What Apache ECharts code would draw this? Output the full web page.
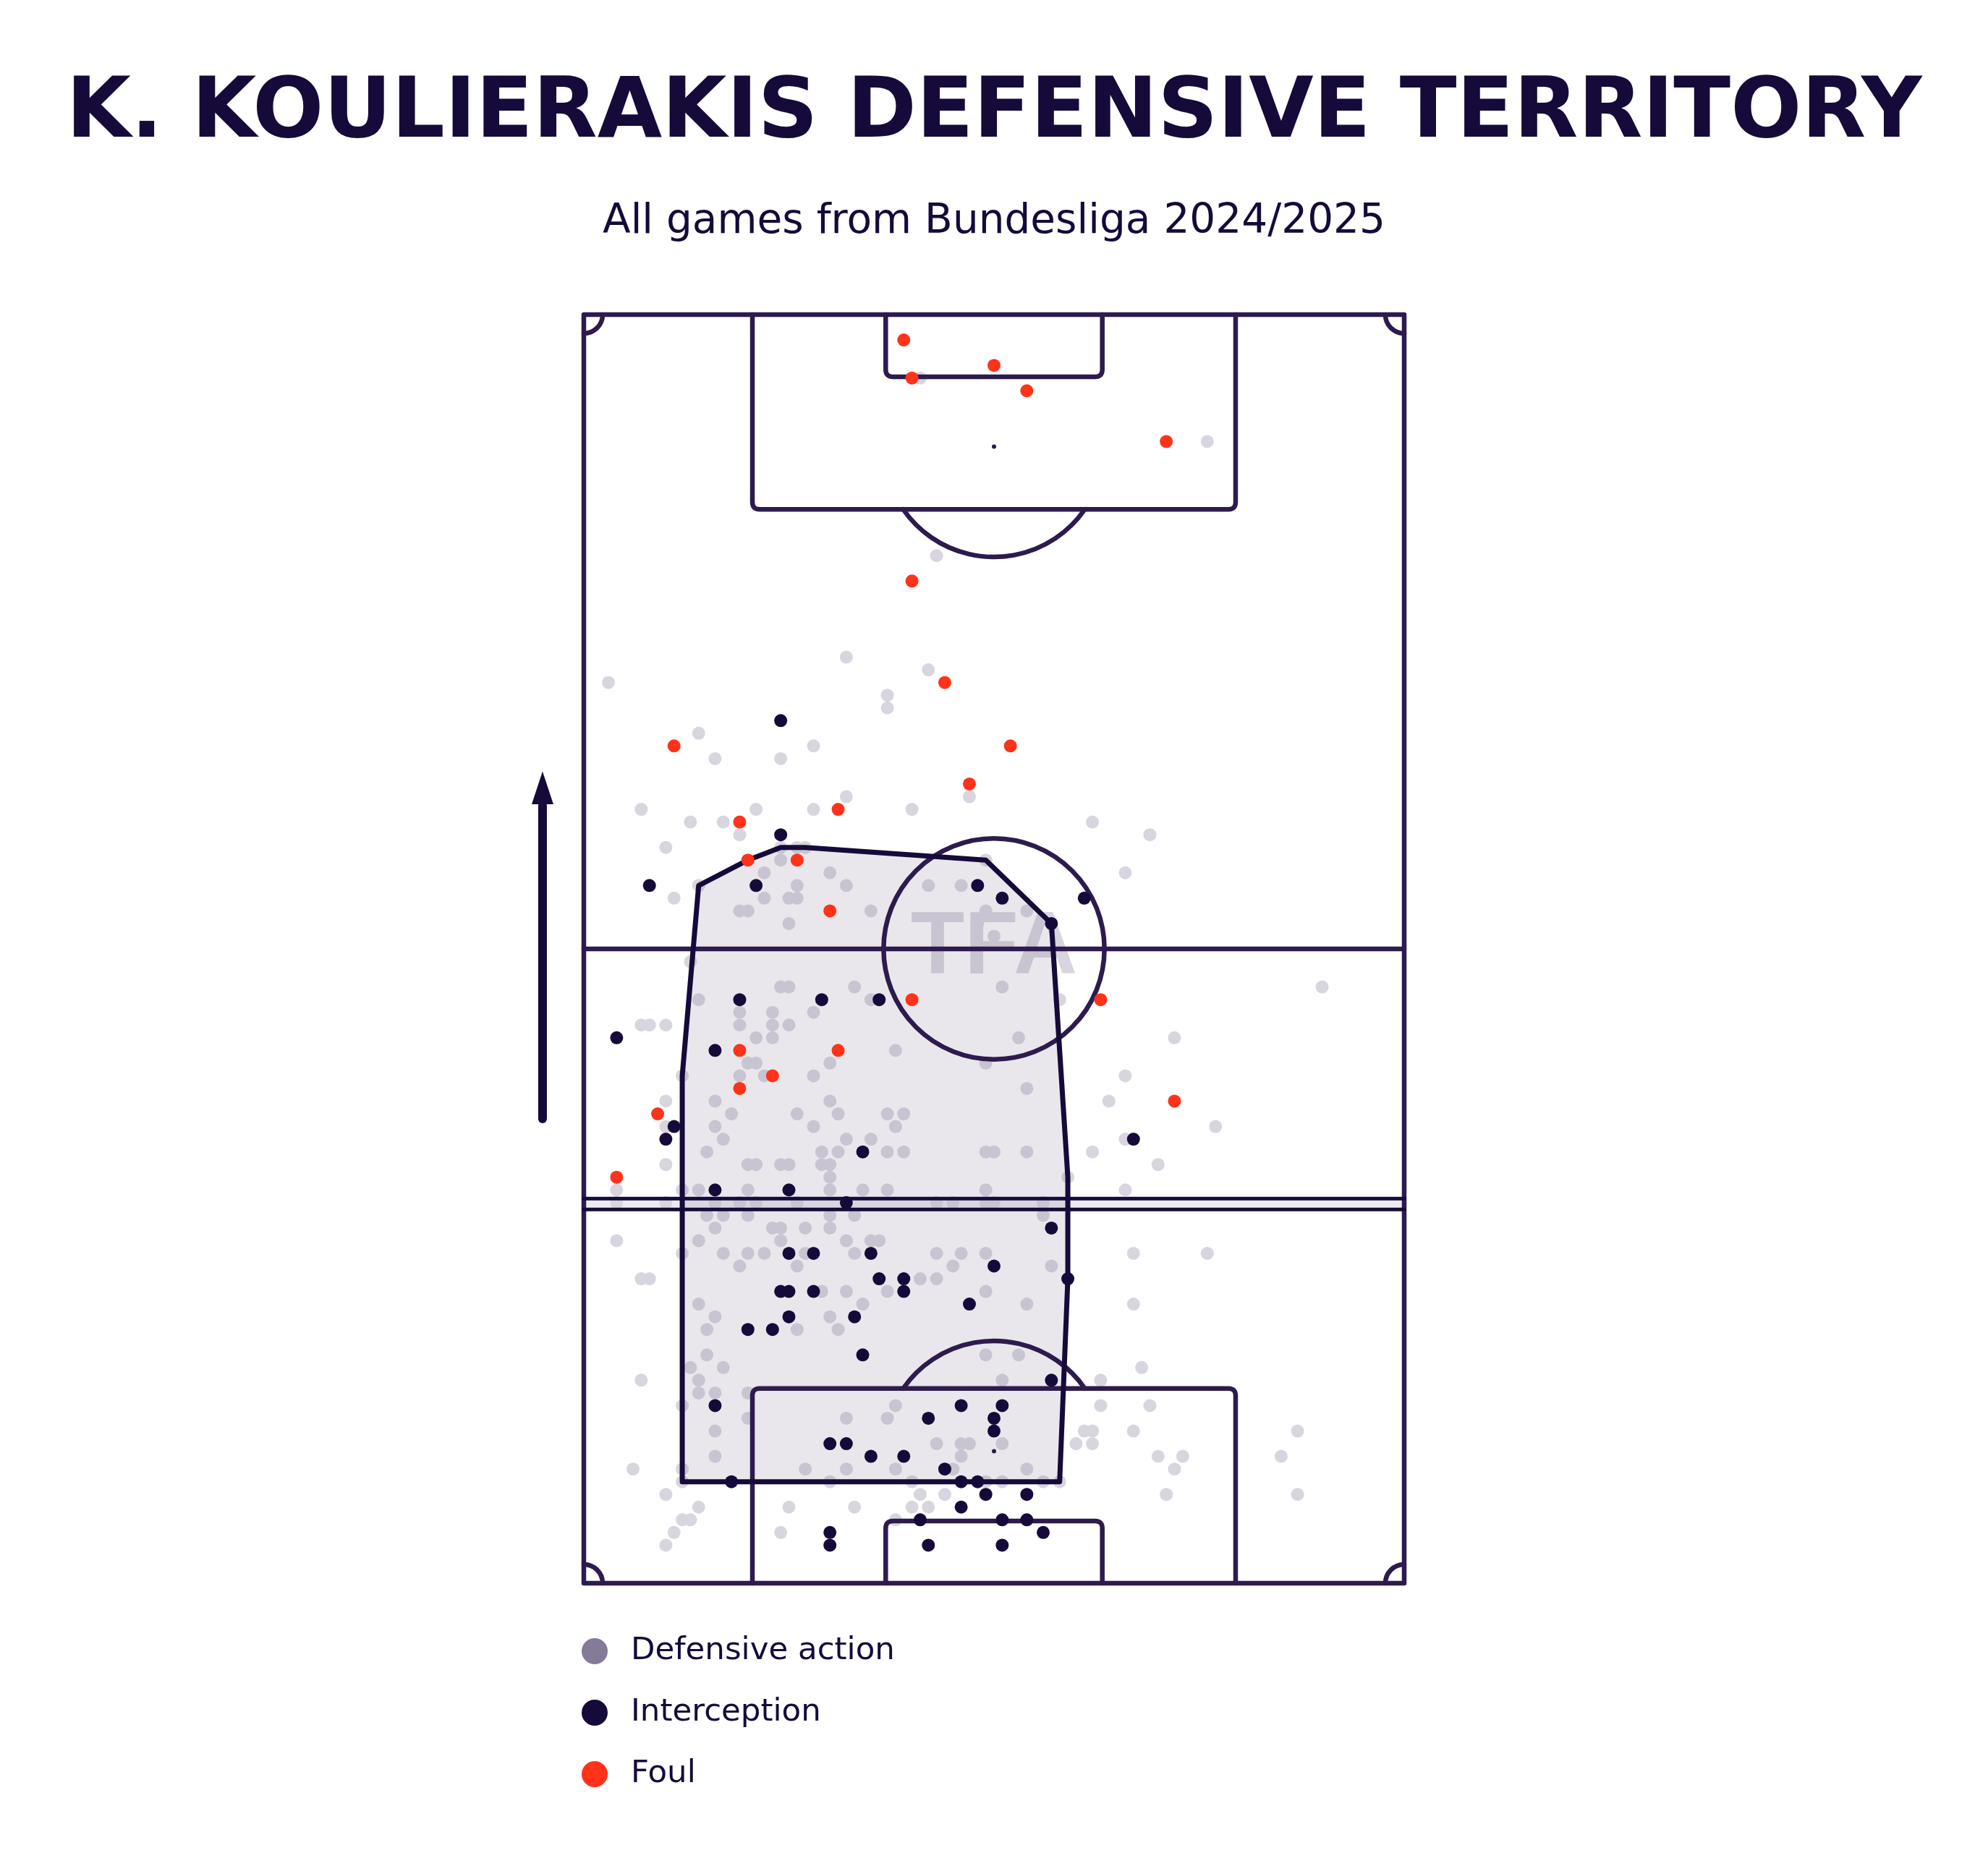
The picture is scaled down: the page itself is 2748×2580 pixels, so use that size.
<!DOCTYPE html>
<html>
<head>
<meta charset="utf-8">
<title>K. Koulierakis defensive territory</title>
<script src="https://cdn.jsdelivr.net/npm/echarts@6.0.0/dist/echarts.min.js"></script>
<style>
  html, body { margin: 0; padding: 0; background: #ffffff; }
  #territory { width: 2748px; height: 2580px; }
</style>
</head>
<body>
<div id="territory"></div>
<script>
// positions are opta units: x across the pitch (0 left, 100 right), y along it (0 own goal, 100 opp goal)
var defensiveActions = [
  [41,95],[76,90],[43,81],[32,73],[42,72],[3,71],[37,70],[37,69],
  [14,67],[28,66],[16,65],[24,65],[47,62],[32,62],[7,61],[21,61],[28,61],[40,61],[62,60],[13,60],[17,60],
  [19,59],[69,59],[10,58],[24,58],[26,58],[27,58],[24,57],[49,57],[22,56],[30,56],[66,56],
  [14,55],[26,55],[32,55],[42,55],[46,55],[11,54],[22,54],[25,54],[26,54],[19,53],[20,53],[35,53],[49,53],[54,53],
  [48,52],[25,52],[50,51],
  [13,49],[24,47],[25,47],[33,47],[51,47],[90,47],[14,46],[35,46],[58,46],[19,45],[23,45],[28,45],
  [7,44],[8,44],[10,44],[19,44],[23,44],[25,44],[21,43],[23,43],[53,43],[72,43],[38,42],
  [20,41],[21,41],[30,41],[49,41],[12,40],[19,40],[22,40],[28,40],[66,40],[54,39],
  [10,38],[16,38],[30,38],[64,38],[18,37],[26,37],[31,37],[37,37],[39,37],
  [10,36],[16,36],[28,36],[38,36],[77,36],[17,35],[32,35],[35,35],[66,35],
  [15,34],[29,34],[31,34],[37,34],[39,34],[49,34],[50,34],[54,34],[62,34],
  [10,33],[20,33],[21,33],[24,33],[25,33],[29,33],[30,33],[70,33],[30,32],[59,32],
  [4,31],[12,31],[14,31],[20,31],[30,31],[34,31],[37,31],[49,31],[66,31],
  [4,30],[10,30],[16,30],[19,30],[21,30],[26,30],[43,30],[45,30],[49,30],[50,30],[56,30],
  [15,29],[17,29],[20,29],[30,29],[33,29],[56,29],
  [16,28],[23,28],[24,28],[27,28],[30,28],
  [4,27],[14,27],[24,27],[32,27],[35,27],[36,27],
  [12,26],[17,26],[20,26],[22,26],[27,26],[33,26],[43,26],[46,26],[49,26],[67,26],[76,26],
  [19,25],[26,25],[45,25],[57,25],
  [7,24],[8,24],[41,24],[43,24],
  [29,23],[32,23],[37,23],[49,23],
  [14,22],[34,22],[54,22],[67,22],
  [16,21],[30,21],
  [15,20],[26,20],[31,20],
  [15,18],[49,18],[53,18],
  [13,17],[17,17],[68,17],
  [7,16],[14,16],[51,16],[63,16],
  [14,15],[16,15],[20,15],
  [12,14],[38,14],[63,14],[69,14],
  [20,13],[32,13],[37,13],
  [16,12],[61,12],[62,12],[67,12],[87,12],
  [43,11],[46,11],[47,11],[51,11],[60,11],[62,11],
  [16,10],[46,10],[70,10],[73,10],[85,10],
  [6,9],[12,9],[27,9],[32,9],[38,9],[45,9],[54,9],[72,9],
  [12,8],[30,8],[40,8],[49,8],[51,8],[56,8],[58,8],
  [10,7],[41,7],[44,7],[71,7],[87,7],
  [14,6],[25,6],[33,6],[40,6],[42,6],
  [12,5],[13,5],[38,5],
  [11,4],[24,4],
  [10,3]
];

var interceptions = [
  [24,68],[24,59],[8,55],[21,55],[48,55],[51,54],[61,54],[57,52],
  [19,46],[29,46],[36,46],[4,43],[16,42],[11,36],[10,35],[67,35],[34,34],
  [16,31],[25,31],[32,30],[57,28],[25,26],[28,26],[35,26],[50,25],
  [36,24],[39,24],[59,24],[24,23],[25,23],[28,23],[39,23],[47,22],
  [25,21],[33,21],[20,20],[23,20],[34,18],[57,16],
  [16,14],[46,14],[51,14],[42,13],[50,13],[50,12],[30,11],[32,11],
  [35,10],[39,10],[44,9],[18,8],[46,8],[48,8],[49,7],[54,7],
  [46,6],[41,5],[51,5],[54,5],[30,4],[56,4],[30,3],[42,3],[51,3]
];

var fouls = [
  [39,98],[50,96],[40,95],[54,94],[71,90],[40,79],[44,71],
  [11,66],[52,66],[47,63],[31,61],[19,60],[20,57],[26,57],[30,53],
  [40,46],[63,46],[19,42],[31,42],[23,40],[19,39],[72,38],[9,37],[4,32]
];

// territory outline (convex hull corners)
var hullPoints = [
  [20,57],[24,58],[27,58],[49,57],[57,52],[59,32],[59,24],[58,8],[12,8],[12,40],[14,55]
];

var legendNames = ['Defensive action', 'Interception', 'Foul'];

// pitch markings in the same units
var PEN_X = [20.55, 79.45], PEN_DEPTH = 15.35;
var SIX_X = [36.8, 63.2], SIX_DEPTH = 4.9;
var SPOT_DIST = 10.4;
var CIRCLE_R = 13.46;          // 9.15 m of a 68 m width
var BAND = [29.46, 30.31];
var ARROW = { x: -5.03, from: 36.6, base: 61.4, tip: 64.0 };

var DARK = '#160a3a', LINE = '#2d1b4e', RED = '#ff3319', GREY = '#857a98', GREY_DOT = '#d8d5df';

var chart = echarts.init(document.getElementById('territory'));

function stroke(w, col) {
  return { fill: 'none', stroke: col || LINE, lineWidth: w || 6.5, lineCap: 'round', lineJoin: 'round' };
}

function roundCorners(pts, r) {
  var out = [pts[0]];
  for (var i = 1; i < pts.length - 1; i++) {
    var p = pts[i], a = pts[i - 1], b = pts[i + 1];
    var la = Math.hypot(a[0] - p[0], a[1] - p[1]);
    var lb = Math.hypot(b[0] - p[0], b[1] - p[1]);
    var s = [p[0] + (a[0] - p[0]) * r / la, p[1] + (a[1] - p[1]) * r / la];
    var e = [p[0] + (b[0] - p[0]) * r / lb, p[1] + (b[1] - p[1]) * r / lb];
    for (var t = 0; t <= 1.0001; t += 0.125) {
      var u = 1 - t;
      out.push([u * u * s[0] + 2 * u * t * p[0] + t * t * e[0], u * u * s[1] + 2 * u * t * p[1] + t * t * e[1]]);
    }
  }
  out.push(pts[pts.length - 1]);
  return out;
}

function renderBand(params, api) {
  var a = api.coord([0, BAND[1]]), b = api.coord([100, BAND[0]]);
  return { type: 'rect', shape: { x: a[0], y: a[1], width: b[0] - a[0], height: b[1] - a[1] },
    style: { fill: 'rgba(133,122,152,0.15)' } };
}

function renderMark(params, api) {
  var p = api.coord([50, 50]);
  return { type: 'text', x: p[0], y: p[1],
    style: { text: 'TFA', fill: GREY_DOT, font: 'bold 122px "Liberation Sans"', align: 'center', verticalAlign: 'middle' } };
}

function renderHull(fill) {
  return function (params, api) {
    var pts = hullPoints.map(function (p) { return api.coord(p); });
    return { type: 'polygon', shape: { points: pts },
      style: fill ? { fill: 'rgba(133,122,152,0.18)', stroke: 'none' }
                  : { fill: 'none', stroke: DARK, lineWidth: 7, lineJoin: 'round' } };
  };
}

function renderPitch(params, api) {
  var c = function (x, y) { return api.coord([x, y]); };
  var kids = [];
  var tl = c(0, 100), br = c(100, 0);
  kids.push({ type: 'rect', shape: { x: tl[0], y: tl[1], width: br[0] - tl[0], height: br[1] - tl[1] }, style: stroke() });
  kids.push({ type: 'polyline', shape: { points: [c(0, 50), c(100, 50)] }, style: stroke() });
  var mid = c(50, 50);
  var r = c(50 + CIRCLE_R, 50)[0] - mid[0];
  kids.push({ type: 'circle', shape: { cx: mid[0], cy: mid[1], r: r }, style: stroke() });
  kids.push({ type: 'circle', shape: { cx: mid[0], cy: mid[1], r: 3 }, style: { fill: LINE } });

  [100, 0].forEach(function (goal) {
    var dir = goal === 100 ? -1 : 1;
    kids.push({ type: 'polyline', shape: { points: roundCorners([
      c(PEN_X[0], goal), c(PEN_X[0], goal + dir * PEN_DEPTH), c(PEN_X[1], goal + dir * PEN_DEPTH), c(PEN_X[1], goal)], 10) },
      style: stroke() });
    kids.push({ type: 'polyline', shape: { points: roundCorners([
      c(SIX_X[0], goal), c(SIX_X[0], goal + dir * SIX_DEPTH), c(SIX_X[1], goal + dir * SIX_DEPTH), c(SIX_X[1], goal)], 10) },
      style: stroke() });
    var spot = c(50, goal + dir * SPOT_DIST);
    kids.push({ type: 'circle', shape: { cx: spot[0], cy: spot[1], r: 3 }, style: { fill: LINE } });
    var edge = c(50, goal + dir * PEN_DEPTH);
    var a0 = Math.asin(Math.min(1, Math.abs(edge[1] - spot[1]) / r));
    var start = goal === 100 ? a0 : Math.PI + a0;
    kids.push({ type: 'arc', shape: { cx: spot[0], cy: spot[1], r: r, startAngle: start, endAngle: start + Math.PI - 2 * a0, clockwise: true },
      style: stroke() });
  });

  [[0, 100, 0], [100, 100, 0.5], [100, 0, 1], [0, 0, 1.5]].forEach(function (k) {
    var p = c(k[0], k[1]);
    kids.push({ type: 'arc', shape: { cx: p[0], cy: p[1], r: 26, startAngle: k[2] * Math.PI, endAngle: (k[2] + 0.5) * Math.PI, clockwise: true },
      style: stroke() });
  });

  BAND.forEach(function (v) {
    kids.push({ type: 'polyline', shape: { points: [c(0, v), c(100, v)] }, style: stroke(5, DARK) });
  });

  // direction of play
  var base = c(ARROW.x, ARROW.base), tip = c(ARROW.x, ARROW.tip);
  kids.push({ type: 'polyline', shape: { points: [c(ARROW.x, ARROW.from), [base[0], base[1] + 2]] }, style: stroke(12, DARK) });
  kids.push({ type: 'polygon', shape: { points: [tip, [base[0] - 15, base[1]], [base[0] + 15, base[1]]] }, style: { fill: DARK } });

  return { type: 'group', children: kids };
}

var option = {
  backgroundColor: '#ffffff',
  animation: false,
  title: [{
    text: 'K. KOULIERAKIS DEFENSIVE TERRITORY',
    left: 'center', top: 101, padding: 0,
    textStyle: { fontFamily: 'DejaVu Sans', fontWeight: 'bold', fontSize: 115.5, color: DARK }
  }, {
    text: 'All games from Bundesliga 2024/2025',
    left: 'center', top: 279, padding: 0,
    textStyle: { fontFamily: 'DejaVu Sans', fontWeight: 'normal', fontSize: 56.5, color: DARK }
  }],
  legend: {
    orient: 'vertical', left: 804, top: 2261, padding: 0,
    itemWidth: 36, itemHeight: 36, itemGap: 41, icon: 'circle',
    selectedMode: false,
    textStyle: { fontFamily: 'DejaVu Sans', fontSize: 43.5, lineHeight: 36, color: DARK, padding: [0, 0, 0, 27] },
    data: [
      { name: legendNames[0], itemStyle: { color: GREY } },
      { name: legendNames[1] },
      { name: legendNames[2] }
    ]
  },
  grid: { left: 807, top: 435, width: 1134, height: 1754 },
  xAxis: { type: 'value', min: 0, max: 100, show: false },
  yAxis: { type: 'value', min: 0, max: 100, show: false },
  series: [
    { type: 'custom', z: 1, silent: true, data: [[50, 30]], renderItem: renderBand },
    { type: 'custom', z: 2, silent: true, data: [[50, 50]], renderItem: renderMark },
    { name: legendNames[0], type: 'scatter', z: 2, symbolSize: 18, data: defensiveActions,
      itemStyle: { color: GREY_DOT, opacity: 1 } },
    { type: 'custom', z: 3, silent: true, data: [[50, 50]], renderItem: renderHull(true) },
    { type: 'custom', z: 4, silent: true, data: [[50, 50]], renderItem: renderPitch },
    { type: 'custom', z: 5, silent: true, data: [[50, 50]], renderItem: renderHull(false) },
    { name: legendNames[1], type: 'scatter', z: 6, symbolSize: 18, data: interceptions,
      itemStyle: { color: DARK, opacity: 1 } },
    { name: legendNames[2], type: 'scatter', z: 7, symbolSize: 18, data: fouls,
      itemStyle: { color: RED, opacity: 1 } }
  ]
};

chart.setOption(option);
</script>
</body>
</html>
